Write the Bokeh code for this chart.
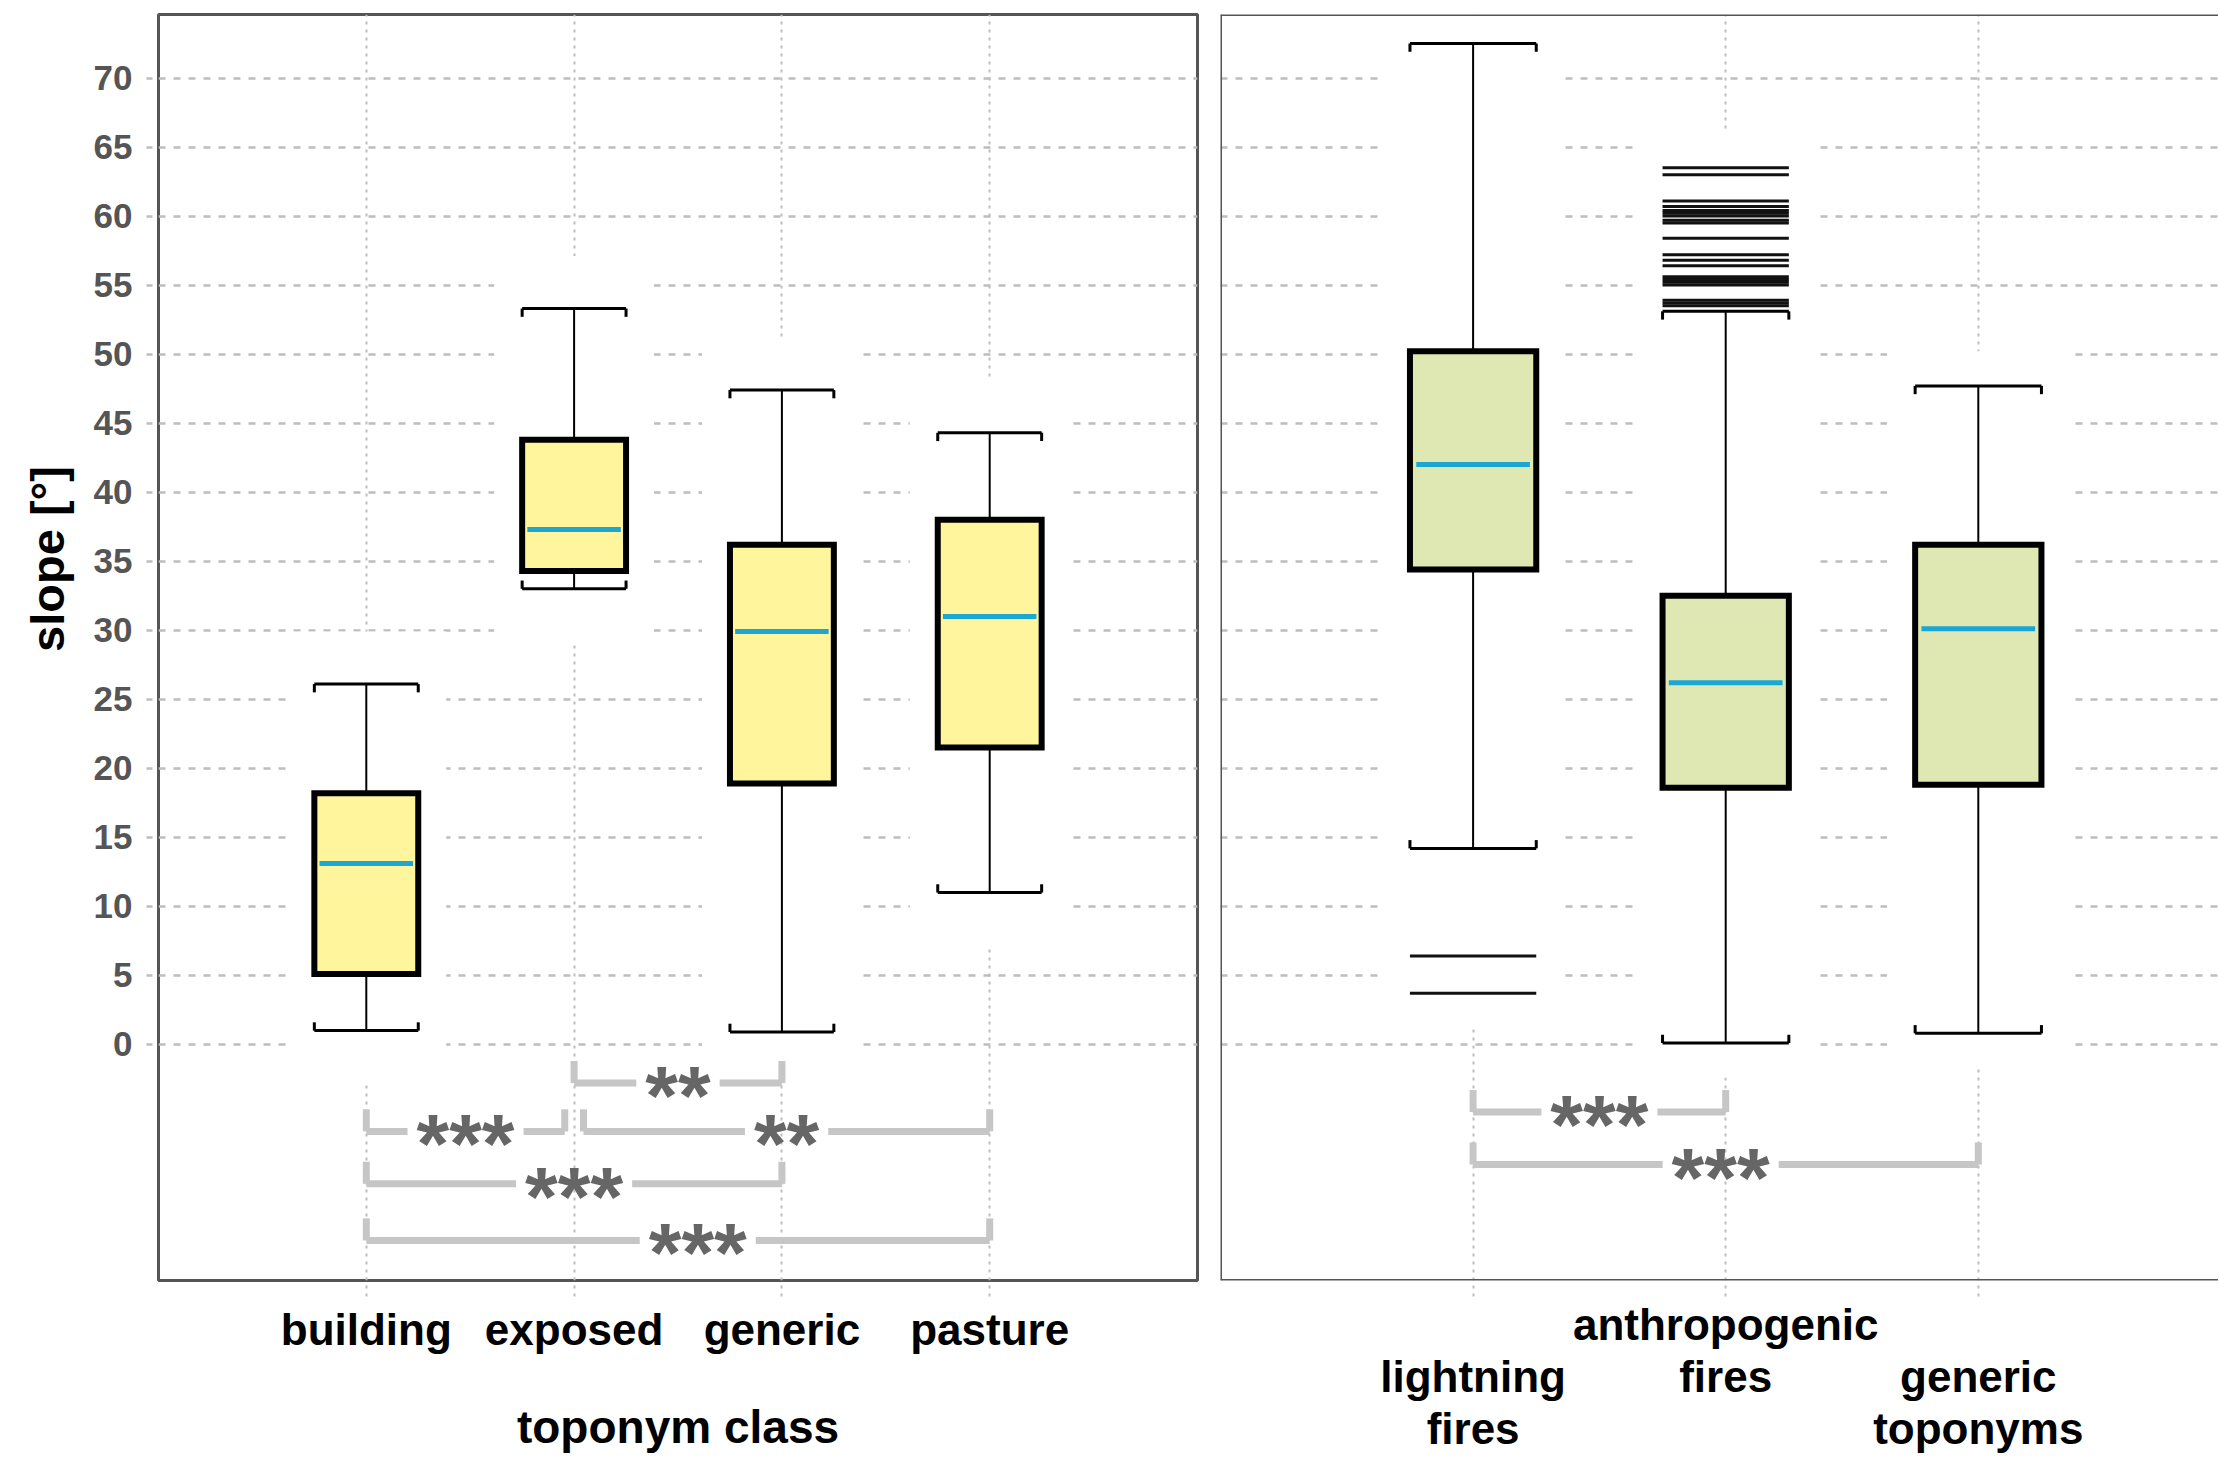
from bokeh.plotting import figure
from bokeh.models import Range1d, FixedTicker, ColumnDataSource, Span, Title
from bokeh.layouts import row
from bokeh.embed import file_html
from bokeh.resources import INLINE
from bokeh.core.properties import value

# ---------------- data ----------------
left_categories = ["building", "exposed", "generic", "pasture"]
left_low = [1.0, 33.0, 0.9, 11.0]
left_q1 = [5.1, 34.3, 18.9, 21.5]
left_median = [13.1, 37.3, 29.9, 31.0]
left_q3 = [18.2, 43.8, 36.2, 38.0]
left_high = [26.1, 53.3, 47.4, 44.3]

right_categories = ["lightning fires", "anthropogenic fires", "generic toponyms"]
right_low = [14.2, 0.1, 0.8]
right_q1 = [34.4, 18.6, 18.8]
right_median = [42.0, 26.2, 30.1]
right_q3 = [50.2, 32.5, 36.2]
right_high = [72.5, 53.1, 47.7]

lightning_outliers = [6.4, 3.7]
anthropogenic_outliers = [63.5, 63.0, 61.1, 60.7, 60.4, 60.2, 60.0, 59.7, 59.5,
                          58.4, 57.2, 56.8, 56.4, 55.6, 55.4, 55.2, 55.0,
                          53.9, 53.7, 53.5]

y_ticks = [0, 5, 10, 15, 20, 25, 30, 35, 40, 45, 50, 55, 60, 65, 70]
y_title = "slope [°]"
x_title_left = "toponym class"

left_sig_from = ["exposed", "building", "exposed", "building", "building"]
left_sig_to = ["generic", "exposed", "pasture", "generic", "pasture"]
left_sig_label = ["**", "***", "**", "***", "***"]

right_sig_from = ["lightning fires", "lightning fires"]
right_sig_to = ["anthropogenic fires", "generic toponyms"]
right_sig_label = ["***", "***"]

# ---------------- layout / style ----------------
FONT = "Liberation Sans"
Y_MIN, Y_MAX = -17.1, 74.6
BOX_HALF = 0.25
CAP_TICK = 0.6
BRACKET_TICK = 1.6
STAR_SIZE = 84
TOP_BORDER = 14
FRAME_H = 1270
FIG_H = 1456
Y_TITLE_SIZE = 47
Y_TITLE_EM = 3.956   # advance width of the y title in em (bold sans)

left_levels = [-2.8, -6.3, -6.3, -10.1, -14.2]
left_inset_a = [0.0, 0.0, 0.045, 0.0, 0.0]
left_inset_b = [0.0, 0.045, 0.0, 0.0, 0.0]
left_text_dx = [0.0, 0.0, 0.0, 0.0, 0.095]

right_levels = [-4.9, -8.7]
right_inset_a = [0.0, 0.0]
right_inset_b = [0.0, 0.0]
right_text_dx = [0.0, -0.02]


def make_panel(cats, low, q1, med, q3, high, outliers, fill, sig_from, sig_to,
               sig_label, levels, inset_a, inset_b, text_dx, x_end, frame_w,
               width, border_left, border_right, labels, x_title, left_panel,
               halo_pad_y):
    px_per_unit = frame_w / x_end
    halo_pad_x = 28.0 / px_per_unit
    xs = list(range(1, len(cats) + 1))
    p = figure(width=width, height=FIG_H, x_range=Range1d(0, x_end),
               y_range=Range1d(Y_MIN, Y_MAX), output_backend="svg",
               toolbar_location=None, min_border_left=border_left,
               min_border_right=border_right, min_border_top=TOP_BORDER,
               min_border_bottom=FIG_H - TOP_BORDER - FRAME_H,
               background_fill_color="white", border_fill_color="white")

    # grids
    p.xgrid.ticker = FixedTicker(ticks=xs)
    p.ygrid.ticker = FixedTicker(ticks=y_ticks)
    p.xgrid.grid_line_color = "#BDBDBD"
    p.xgrid.grid_line_dash = "3 5"
    p.xgrid.grid_line_width = 2
    p.ygrid.grid_line_color = "#BDBDBD"
    p.ygrid.grid_line_dash = "7 8"
    p.ygrid.grid_line_width = 2.5

    # white halos around each box column
    h_left, h_right, h_bottom, h_top = [], [], [], []
    for i, x in enumerate(xs):
        o = outliers.get(i, [])
        lo = min([low[i]] + o)
        hi = max([high[i]] + o)
        h_left.append(x - BOX_HALF - halo_pad_x)
        h_right.append(x + BOX_HALF + halo_pad_x)
        h_bottom.append(lo - halo_pad_y)
        h_top.append(hi + halo_pad_y)
    p.quad(left=h_left, right=h_right, bottom=h_bottom, top=h_top,
           fill_color="white", line_color=None)

    # whiskers
    p.segment(x0=xs, y0=low, x1=xs, y1=q1, line_color="black", line_width=2)
    p.segment(x0=xs, y0=q3, x1=xs, y1=high, line_color="black", line_width=2)
    xl = [x - BOX_HALF for x in xs]
    xr = [x + BOX_HALF for x in xs]
    for ys, sgn in ((high, -1), (low, 1)):
        p.segment(x0=xl, y0=ys, x1=xr, y1=ys, line_color="black", line_width=3)
        p.segment(x0=xl, y0=ys, x1=xl, y1=[y + sgn * CAP_TICK for y in ys],
                  line_color="black", line_width=3)
        p.segment(x0=xr, y0=ys, x1=xr, y1=[y + sgn * CAP_TICK for y in ys],
                  line_color="black", line_width=3)

    # boxes
    p.quad(left=xl, right=xr, bottom=q1, top=q3, fill_color=fill,
           line_color="black", line_width=6, line_join="miter")
    p.segment(x0=[x - BOX_HALF + 0.025 for x in xs], y0=med,
              x1=[x + BOX_HALF - 0.025 for x in xs], y1=med,
              line_color="#1CA6D2", line_width=5)

    # outliers
    ox0, ox1, oy = [], [], []
    for i, o in outliers.items():
        for v in o:
            ox0.append(xs[i] - BOX_HALF)
            ox1.append(xs[i] + BOX_HALF)
            oy.append(v)
    if oy:
        p.segment(x0=ox0, y0=oy, x1=ox1, y1=oy, line_color="#111111", line_width=3)

    # significance brackets
    pos = {c: x for c, x in zip(cats, xs)}
    bx0, by0, bx1, by1 = [], [], [], []
    tx, ty = [], []
    for a, b, lab, lvl, ia, ib, dx in zip(sig_from, sig_to, sig_label, levels,
                                         inset_a, inset_b, text_dx):
        xa = pos[a] + ia
        xb = pos[b] - ib
        xm = (xa + xb) / 2 + dx
        gap = (len(lab) * 0.389 * STAR_SIZE + 18) / px_per_unit
        bx0 += [xa, xm + gap / 2, xa, xb]
        bx1 += [xm - gap / 2, xb, xa, xb]
        by0 += [lvl, lvl, lvl, lvl]
        by1 += [lvl, lvl, lvl + BRACKET_TICK, lvl + BRACKET_TICK]
        tx.append(xm)
        ty.append(lvl)
    p.segment(x0=bx0, y0=by0, x1=bx1, y1=by1, line_color="#C6C6C6",
              line_width=7, line_cap="butt")
    src = ColumnDataSource(dict(x=tx, y=ty, t=list(sig_label)))
    p.text(x="x", y="y", text="t", source=src, text_font=value(FONT),
           text_font_style="bold", text_font_size=f"{STAR_SIZE}px",
           text_color="#666666", text_align="center",
           text_baseline="alphabetic", y_offset=13)

    # x axis
    xa_ = p.xaxis[0]
    xa_.ticker = FixedTicker(ticks=xs)
    xa_.major_label_overrides = {x: l for x, l in zip(xs, labels)}
    xa_.major_label_text_font = FONT
    xa_.major_label_text_font_style = "bold"
    xa_.major_label_text_font_size = "44px"
    xa_.major_label_text_color = "black"
    xa_.major_label_text_line_height = 1.07
    xa_.axis_line_color = None
    xa_.major_tick_in = 0
    xa_.major_tick_out = 16
    xa_.major_tick_line_color = "#BDBDBD"
    xa_.major_tick_line_dash = "3 5"
    xa_.major_tick_line_width = 2
    xa_.minor_tick_line_color = None
    xa_.major_label_standoff = 8 if left_panel else 3
    if x_title:
        xa_.axis_label = x_title
        xa_.axis_label_text_font = FONT
        xa_.axis_label_text_font_style = "bold"
        xa_.axis_label_text_font_size = "46px"
        xa_.axis_label_text_color = "black"
        xa_.axis_label_standoff = 44

    ya = p.yaxis[0]
    if left_panel:
        ya.ticker = FixedTicker(ticks=y_ticks)
        ya.major_label_text_font = FONT
        ya.major_label_text_font_style = "bold"
        ya.major_label_text_font_size = "35px"
        ya.major_label_text_color = "#555555"
        ya.axis_line_color = None
        ya.major_tick_in = 0
        ya.major_tick_out = 12
        ya.major_tick_line_color = "#BDBDBD"
        ya.major_tick_line_dash = "6 6"
        ya.major_tick_line_width = 2.5
        ya.minor_tick_line_color = None
        ya.major_label_standoff = 14
        # y title centred on the 0..70 tick span rather than on the frame
        tick_mid = (y_ticks[0] + y_ticks[-1]) / 2
        mid_px = (tick_mid - Y_MIN) * FRAME_H / (Y_MAX - Y_MIN)
        offset = mid_px - Y_TITLE_EM * Y_TITLE_SIZE / 2
        p.add_layout(Title(text=y_title, align="left", offset=offset,
                           text_font=FONT, text_font_style="bold",
                           text_font_size=f"{Y_TITLE_SIZE}px",
                           text_color="black", standoff=34), "left")
        p.outline_line_color = "#555555"
        p.outline_line_width = 3
    else:
        ya.visible = False
        p.outline_line_color = None
        for loc, dim in ((0, "height"), (Y_MAX, "width"), (Y_MIN, "width")):
            p.add_layout(Span(location=loc, dimension=dim,
                              line_color="#555555", line_width=3))
    return p


left_labels = list(left_categories)
# stagger: the middle label of the right panel sits one line higher
right_labels = []
for i, c in enumerate(right_categories):
    lab = c.replace(" ", "\n")
    right_labels.append(lab if i == 1 else "\n" + lab)

p_left = make_panel(left_categories, left_low, left_q1, left_median, left_q3,
                    left_high, {}, "#FFF59D", left_sig_from, left_sig_to,
                    left_sig_label, left_levels, left_inset_a, left_inset_b,
                    left_text_dx, 5.0, 1039, 1208, 158, 11, left_labels,
                    x_title_left, True, 3.8)

p_right = make_panel(right_categories, right_low, right_q1, right_median,
                     right_q3, right_high,
                     {0: lightning_outliers, 1: anthropogenic_outliers},
                     "#DFE8B2", right_sig_from, right_sig_to, right_sig_label,
                     right_levels, right_inset_a, right_inset_b, right_text_dx,
                     998 / 252.6, 998, 1010, 12, 0, right_labels, None, False,
                     2.5)

layout = row(p_left, p_right)
open("out.html", "w").write(file_html(layout, INLINE))
